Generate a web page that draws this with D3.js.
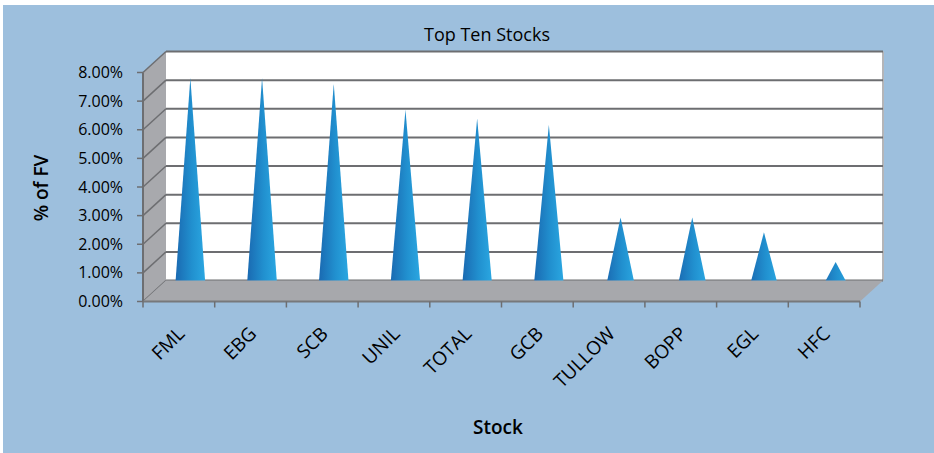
<!DOCTYPE html>
<html>
<head>
<script src="https://d3js.org/d3.v7.min.js"></script>
<style>
  body { margin: 0; background: #fff; }
  text { font-family: "Open Sans", sans-serif; fill: #000; }
</style>
</head>
<body>
<div id="chart"></div>
<script>
var categories = ["FML", "EBG", "SCB", "UNIL", "TOTAL", "GCB", "TULLOW", "BOPP", "EGL", "HFC"];
var values = [7.44, 7.44, 7.24, 6.33, 6.03, 5.81, 2.57, 2.57, 2.05, 1.01];
var yTicks = [0, 1, 2, 3, 4, 5, 6, 7, 8];

var width = 934, height = 453;
// depth offset of the 3D box (front -> back)
var dx = 23, dy = -21;

var svg = d3.select("#chart").append("svg")
  .attr("width", width).attr("height", height);

var defs = svg.append("defs");
var grad = defs.append("linearGradient").attr("id", "cone")
  .attr("x1", "0%").attr("x2", "100%").attr("y1", "0%").attr("y2", "0%");
grad.append("stop").attr("offset", "0%").attr("stop-color", "#1a68b0");
grad.append("stop").attr("offset", "55%").attr("stop-color", "#2190cf");
grad.append("stop").attr("offset", "100%").attr("stop-color", "#2ba8e2");

// background panel
svg.append("rect").attr("x", 3).attr("y", 5).attr("width", width - 3).attr("height", height - 5)
  .attr("fill", "#9dbfdd");

var x = d3.scaleBand().domain(categories).range([143, 860]);
var y = d3.scaleLinear().domain([0, 8]).range([301.5, 72.5]);

var x0 = x.range()[0], x1 = x.range()[1];

// back wall
svg.append("rect")
  .attr("x", x0 + dx).attr("y", y(8) + dy)
  .attr("width", x1 - x0).attr("height", y(0) - y(8))
  .attr("fill", "#fff");
svg.append("line")
  .attr("x1", x1 + dx).attr("x2", x1 + dx)
  .attr("y1", y(8) + dy).attr("y2", y(0) + dy)
  .attr("stroke", "#b4b5b8").attr("stroke-width", 2);

// left wall
svg.append("path")
  .attr("d", "M" + x0 + "," + y(0) + "L" + x0 + "," + y(8) + "L" + (x0 + dx) + "," + (y(8) + dy) +
    "L" + (x0 + dx) + "," + (y(0) + dy) + "Z")
  .attr("fill", "#a8a9ad");

// gridlines on back wall + left wall diagonals
yTicks.forEach(function (t) {
  svg.append("line")
    .attr("x1", x0 + dx).attr("x2", x1 + dx)
    .attr("y1", y(t) + dy).attr("y2", y(t) + dy)
    .attr("stroke", "#6d6e71").attr("stroke-width", 2);
  svg.append("line")
    .attr("x1", x0).attr("x2", x0 + dx)
    .attr("y1", y(t)).attr("y2", y(t) + dy)
    .attr("stroke", "#6d6e71").attr("stroke-width", 1.5);
});

// cones
var baseW = 31;
svg.selectAll(".cone").data(categories).enter().append("path")
  .attr("class", "cone")
  .attr("d", function (d, i) {
    var cx = x(d) + x.bandwidth() / 2 + dx / 2;
    var by = y(0) + dy / 2;
    var ty = y(values[i]) + dy / 2;
    return "M" + (cx - baseW / 2) + "," + by + "L" + cx + "," + ty + "L" + (cx + baseW / 2) + "," + by + "Z";
  })
  .attr("fill", "url(#cone)");

// floor
svg.append("path")
  .attr("d", "M" + x0 + "," + y(0) + "L" + (x0 + dx) + "," + (y(0) + dy) + "L" + (x1 + dx) + "," + (y(0) + dy) +
    "L" + x1 + "," + y(0) + "Z")
  .attr("fill", "#a7a8ac");

// front left axis
svg.append("line")
  .attr("x1", x0).attr("x2", x0).attr("y1", y(8)).attr("y2", y(0))
  .attr("stroke", "#6d6e71").attr("stroke-width", 2);
// front bottom axis
svg.append("line")
  .attr("x1", x0).attr("x2", x1).attr("y1", y(0)).attr("y2", y(0))
  .attr("stroke", "#77787b").attr("stroke-width", 2);

// y ticks and labels
yTicks.forEach(function (t) {
  svg.append("line")
    .attr("x1", x0 - 6).attr("x2", x0).attr("y1", y(t)).attr("y2", y(t))
    .attr("stroke", "#6d6e71").attr("stroke-width", 1.5);
  svg.append("text")
    .attr("x", 123).attr("y", y(t) + 5.5)
    .attr("text-anchor", "end")
    .style("font-size", "16px")
    .text(t.toFixed(2) + "%");
});

// x ticks
var bounds = categories.map(function (c) { return x(c); }).concat([x1]);
bounds.forEach(function (b) {
  svg.append("line")
    .attr("x1", b).attr("x2", b).attr("y1", y(0)).attr("y2", y(0) + 6)
    .attr("stroke", "#6d6e71").attr("stroke-width", 1.5);
});

// x labels
svg.selectAll(".xlab").data(categories).enter().append("text")
  .attr("class", "xlab")
  .attr("text-anchor", "end")
  .style("font-size", "19px").style("font-weight", 500)
  .attr("transform", function (d) {
    return "translate(" + (x(d) + x.bandwidth() / 2 + 7) + ",335) rotate(-45)";
  })
  .text(function (d) { return d; });

// titles
svg.append("text").attr("x", 487).attr("y", 41).attr("text-anchor", "middle")
  .style("font-size", "18px").style("font-weight", 500).text("Top Ten Stocks");

svg.append("text").attr("text-anchor", "middle")
  .attr("transform", "translate(48,188) rotate(-90)")
  .style("font-size", "19px").style("font-weight", 600)
  .text("% of FV");

svg.append("text").attr("x", 498).attr("y", 434).attr("text-anchor", "middle")
  .style("font-size", "19px").style("font-weight", 600)
  .text("Stock");
</script>
</body>
</html>
